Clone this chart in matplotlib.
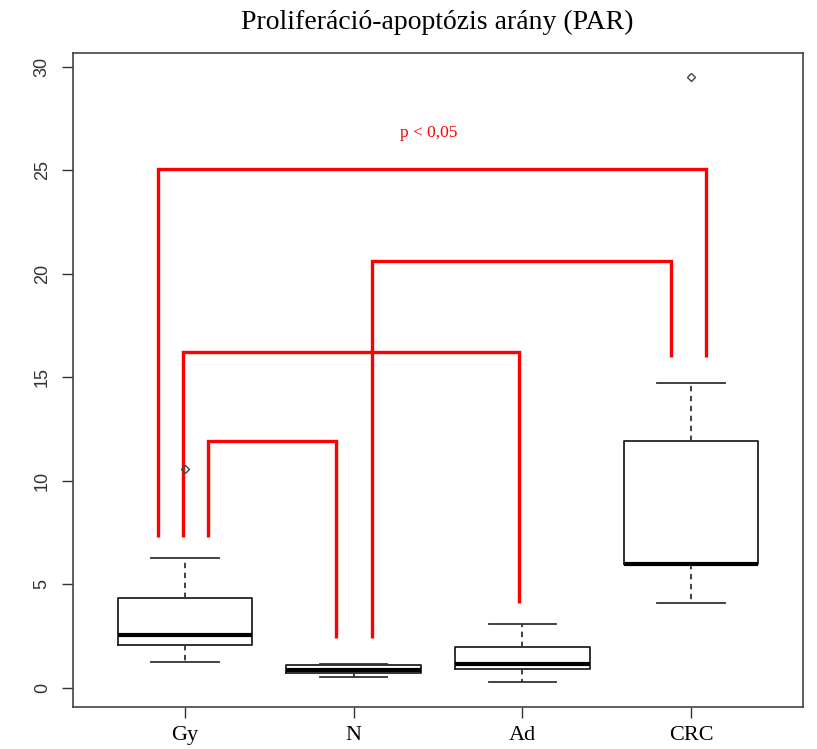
import matplotlib
matplotlib.use("Agg")
import matplotlib.pyplot as plt

# Group labels and five-number summaries of PAR per group
groups = ["Gy", "N", "Ad", "CRC"]
whisker_low = [1.26, 0.53, 0.29, 4.10]
q1 = [2.08, 0.70, 0.92, 6.00]
median = [2.56, 0.87, 1.16, 6.00]
q3 = [4.35, 1.10, 1.98, 11.95]
whisker_high = [6.28, 1.16, 3.09, 14.72]
outliers = [[10.6], [], [], [29.5]]

# Significance brackets: (left x, right x, top y, left leg bottom, right leg bottom)
bracket_left = [0.84, 2.11, 0.99, 1.136]
bracket_right = [4.09, 3.88, 2.98, 1.895]
bracket_top = [25.07, 20.62, 16.22, 11.93]
bracket_left_end = [7.3, 2.4, 7.3, 7.3]
bracket_right_end = [16.0, 16.0, 4.1, 2.4]
sig_label = "p < 0,05"
sig_label_y = 26.8

title = "Proliferáció-apoptózis arány (PAR)"
yticks = [0, 5, 10, 15, 20, 25, 30]

W, H = 817, 749
fig = plt.figure(figsize=(W / 100, H / 100), dpi=100)
ax = fig.add_axes([73 / W, 1 - 707 / H, (803 - 73) / W, (707 - 53) / H])

stats = []
for i, g in enumerate(groups):
    stats.append(dict(label=g, whislo=whisker_low[i], q1=q1[i], med=median[i],
                      q3=q3[i], whishi=whisker_high[i], fliers=outliers[i]))

positions = list(range(1, len(groups) + 1))
art = ax.bxp(stats, positions=positions, widths=0.8, capwidths=0.4,
             showfliers=True, patch_artist=False,
             boxprops=dict(color="#222222", linewidth=1.3),
             medianprops=dict(color="black", linewidth=3.0),
             whiskerprops=dict(color="#333333", linewidth=1.3, linestyle=(0, (3, 2.5))),
             capprops=dict(color="#333333", linewidth=1.3),
             flierprops=dict(marker="D", markersize=4, markerfacecolor="none",
                             markeredgecolor="#444444", markeredgewidth=1.0))
for f in art["fliers"]:
    f.set_zorder(5)

red = "#ff0000"
for xl, xr, yt, yl, yr in zip(bracket_left, bracket_right, bracket_top,
                              bracket_left_end, bracket_right_end):
    ax.plot([xl, xl, xr, xr], [yl, yt, yt, yr], color=red, linewidth=2.4,
            solid_joinstyle="miter", solid_capstyle="butt", zorder=3)

ax.text(2.446, sig_label_y, sig_label, color=red, fontsize=12.5,
        family="Liberation Serif", ha="center", va="center")

ax.set_xlim(0.336, 4.664)
ax.set_ylim(-0.92, 30.67)
ax.set_xticks(positions)
ax.set_xticklabels(groups, family="Liberation Serif", fontsize=16, color="black")
ax.set_yticks(yticks)
ax.set_yticklabels([str(v) for v in yticks], rotation=90, va="center",
                   family="Liberation Sans", fontsize=13, color="#333333")
ax.tick_params(axis="both", direction="out", length=8, width=1.0, color="#333333")
ax.tick_params(axis="x", pad=6)
ax.tick_params(axis="y", pad=8)
for s in ax.spines.values():
    s.set_color("#444444")
    s.set_linewidth(1.2)

fig.text(437 / W, 1 - 22 / H, title, family="Liberation Serif", fontsize=20,
         ha="center", va="center")

fig.savefig("out.png", dpi=100)
